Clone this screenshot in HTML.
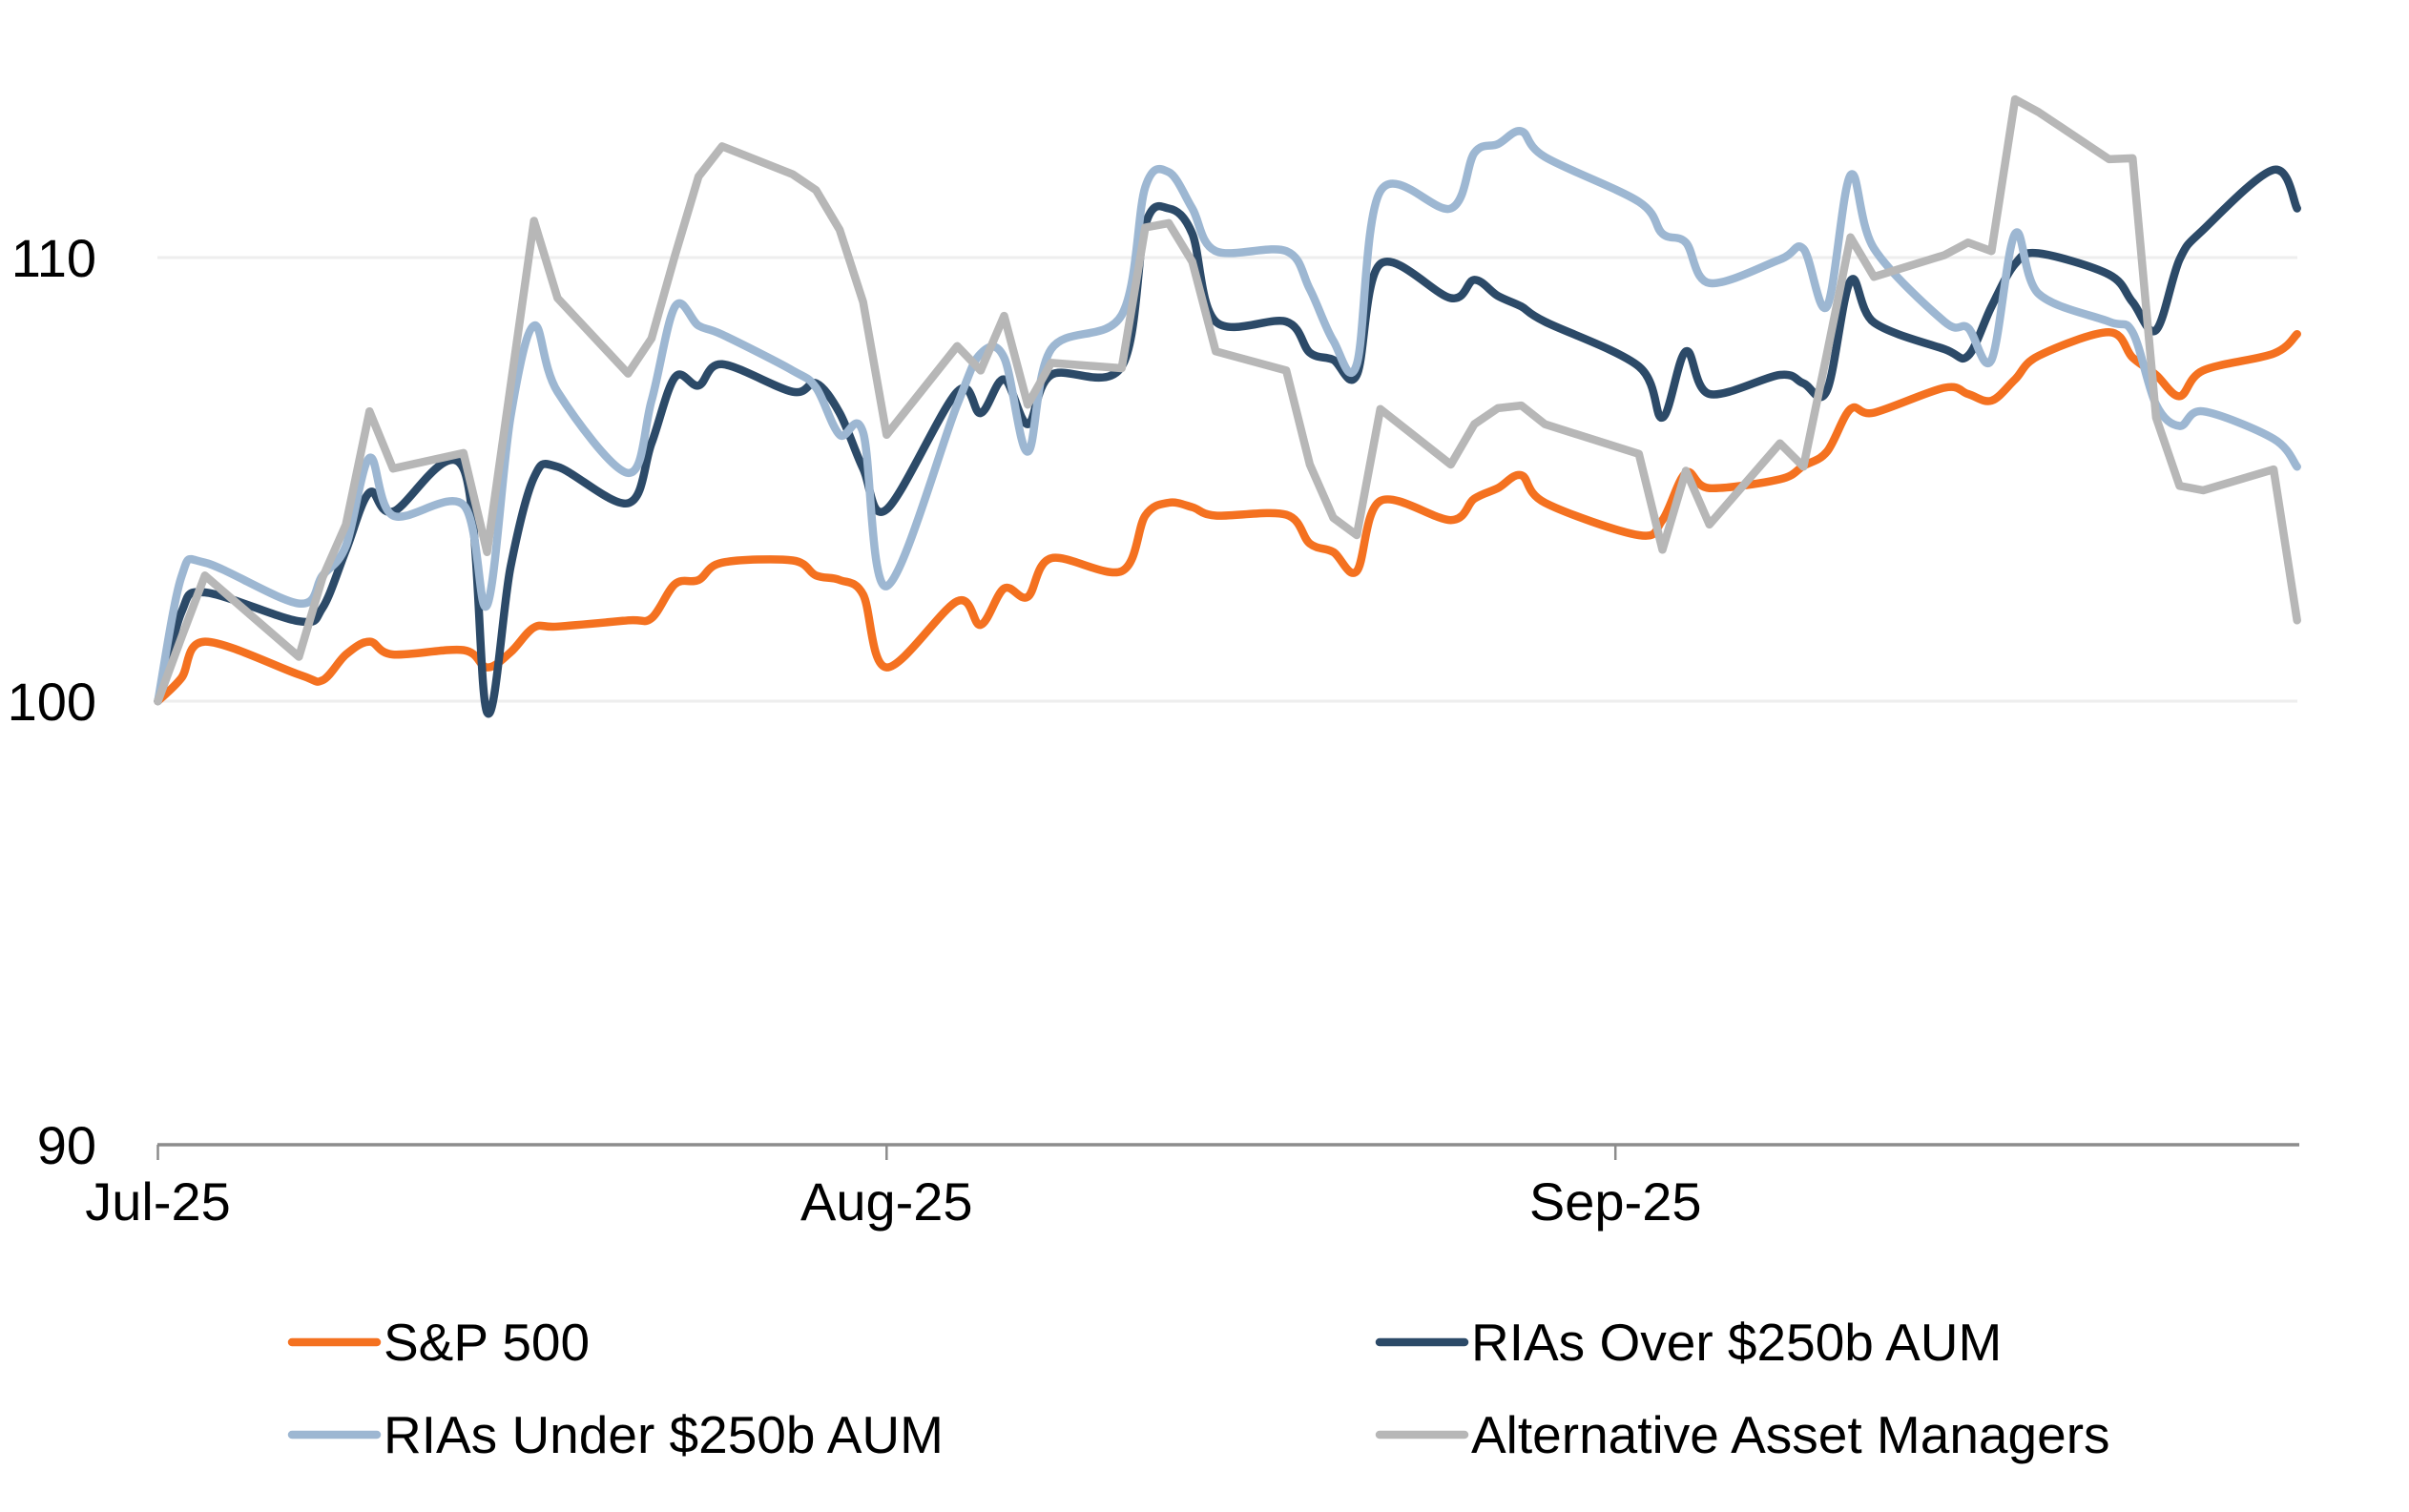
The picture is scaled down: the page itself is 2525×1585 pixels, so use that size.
<!DOCTYPE html>
<html>
<head>
<meta charset="utf-8">
<style>
  html,body{margin:0;padding:0;background:#fff;}
  svg{display:block;}
  text{font-family:"Liberation Sans",Arial,sans-serif;fill:#000;}
</style>
</head>
<body>
<svg id="chart" width="2525" height="1585" viewBox="0 0 2525 1585" xmlns="http://www.w3.org/2000/svg">
  <rect x="0" y="0" width="2525" height="1585" fill="#ffffff"/>
  <!-- gridlines -->
  <line x1="165" y1="270" x2="2408" y2="270" stroke="#EEEEEE" stroke-width="3"/>
  <line x1="165" y1="735" x2="2408" y2="735" stroke="#EEEEEE" stroke-width="3"/>
  <!-- x axis -->
  <line x1="165" y1="1200" x2="2410" y2="1200" stroke="#8C8C8C" stroke-width="3.5"/>
  <line x1="165.5" y1="1200" x2="165.5" y2="1216" stroke="#8C8C8C" stroke-width="2.5"/>
  <line x1="929.3" y1="1200" x2="929.3" y2="1216" stroke="#8C8C8C" stroke-width="2.5"/>
  <line x1="1693.2" y1="1200" x2="1693.2" y2="1216" stroke="#8C8C8C" stroke-width="2.5"/>
  <!-- y labels -->
  <text x="101" y="290" font-size="56" text-anchor="end">110</text>
  <text x="101" y="755" font-size="56" text-anchor="end">100</text>
  <text x="101" y="1220" font-size="56" text-anchor="end">90</text>
  <!-- x labels -->
  <text x="165.5" y="1279" font-size="56" text-anchor="middle">Jul-25</text>
  <text x="929.3" y="1279" font-size="56" text-anchor="middle">Aug-25</text>
  <text x="1693.2" y="1279" font-size="56" text-anchor="middle">Sep-25</text>
  <!-- series -->
  <g id="series" fill="none" stroke-width="8.5" stroke-linejoin="round" stroke-linecap="round"></g>
  <!-- legend -->
  <line x1="306" y1="1407" x2="395" y2="1407" stroke="#F47120" stroke-width="8.5" stroke-linecap="round"/>
  <text x="402" y="1426" font-size="55">S&amp;P 500</text>
  <line x1="1446" y1="1407" x2="1535" y2="1407" stroke="#2C4A68" stroke-width="8.5" stroke-linecap="round"/>
  <text x="1542" y="1426" font-size="55">RIAs Over $250b AUM</text>
  <line x1="306" y1="1504" x2="395" y2="1504" stroke="#9DB7D2" stroke-width="8.5" stroke-linecap="round"/>
  <text x="402" y="1523" font-size="55">RIAs Under $250b AUM</text>
  <line x1="1446" y1="1504" x2="1535" y2="1504" stroke="#B7B7B7" stroke-width="8.5" stroke-linecap="round"/>
  <text x="1542" y="1523" font-size="55">Alternative Asset Managers</text>
</svg>
<script>
(function(){
  var days=[0,1,2,6,7,8,9,10,13,14,15,16,17,20,21,22,23,24,27,28,29,30,31,34,35,36,37,38,41,42,43,44,45,48,49,50,51,52,55,56,57,58,59,63,64,65,66,69,70,71,72,73,76,77,78,79,80,83,84,85,86,87,90,91];
  var orange=[100,100.52,101.34,100.6,100.47,101.05,101.34,101.05,101.15,100.76,101.1,101.66,101.68,101.82,101.87,102.64,102.73,103.12,103.17,102.83,102.73,102.4,100.76,102.25,101.72,102.54,102.35,103.22,102.93,104.18,104.47,104.37,104.18,104.2,103.55,103.36,102.93,104.51,104.08,104.56,104.8,105.09,104.47,103.74,104.08,105.14,104.8,105.0,105.3,105.62,106.58,106.5,107.06,106.92,106.77,107.25,107.78,108.31,107.74,107.35,106.87,107.45,107.83,108.27];
  var navy=[100,102.0,102.45,101.8,102.1,103.4,104.7,104.27,105.24,99.75,103.02,105.04,105.28,104.46,105.81,107.3,107.11,107.59,106.97,107.16,106.49,105.24,104.32,106.97,106.49,107.25,106.24,107.35,107.54,110.72,111.1,110.53,108.55,108.55,107.85,107.69,107.35,109.85,109.08,109.49,109.13,108.89,108.55,107.54,106.39,107.88,106.92,107.35,107.16,107.0,109.47,108.53,107.93,107.78,108.89,109.85,110.09,109.61,108.99,108.36,109.95,110.62,111.97,111.1];
  var light=[100,102.8,103.12,102.2,102.83,103.5,105.48,104.18,104.42,102.16,106.4,108.46,106.97,105.14,106.77,108.89,108.46,108.26,107.45,107.06,106.0,106.05,102.59,106.68,107.83,107.74,105.62,107.93,108.7,111.58,111.92,111.1,110.14,110.14,109.28,108.12,107.59,111.49,111.1,112.35,112.55,112.84,112.26,111.25,110.53,110.33,109.42,109.95,110.19,108.89,111.85,110.2,108.55,108.41,107.69,110.53,109.18,108.55,108.31,106.68,106.2,106.53,105.91,105.28];
  var gray=[100,101.43,102.83,101.0,102.78,103.98,106.53,105.24,105.59,103.36,107.09,110.82,109.08,107.38,108.17,110.05,111.82,112.5,111.87,111.51,110.62,108.99,106.0,108.0,107.45,108.68,106.68,107.62,107.5,110.67,110.77,109.9,107.88,107.45,105.33,104.13,103.74,106.58,105.33,106.24,106.6,106.66,106.24,105.57,103.41,105.19,103.98,105.81,105.28,107.83,110.45,109.56,110.05,110.33,110.14,113.56,113.27,112.21,112.23,106.39,104.85,104.75,105.22,101.82];
  function X(d){return 165.5+d*24.64;}
  function Y(v){return 735-(v-100)*46.53;}
  function pts(vals){var p=[];for(var i=0;i<vals.length;i++)p.push([X(days[i]),Y(vals[i])]);return p;}
  function smooth(p){
    var s='M'+p[0][0].toFixed(1)+','+p[0][1].toFixed(1);
    for(var i=0;i<p.length-1;i++){
      var p0=p[i-1]||p[i],p1=p[i],p2=p[i+1],p3=p[i+2]||p[i+1];
      var c1x=p1[0]+(p2[0]-p0[0])/6,c1y=p1[1]+(p2[1]-p0[1])/6;
      var c2x=p2[0]-(p3[0]-p1[0])/6,c2y=p2[1]-(p3[1]-p1[1])/6;
      s+=' C'+c1x.toFixed(1)+','+c1y.toFixed(1)+' '+c2x.toFixed(1)+','+c2y.toFixed(1)+' '+p2[0].toFixed(1)+','+p2[1].toFixed(1);
    }
    return s;
  }
  function poly(p){var s='M'+p[0][0].toFixed(1)+','+p[0][1].toFixed(1);for(var i=1;i<p.length;i++)s+=' L'+p[i][0].toFixed(1)+','+p[i][1].toFixed(1);return s;}
  var g=document.getElementById('series');
  var ns='http://www.w3.org/2000/svg';
  function add(d,col){var e=document.createElementNS(ns,'path');e.setAttribute('d',d);e.setAttribute('stroke',col);g.appendChild(e);}
  add(smooth(pts(orange)),'#F47120');
  add(smooth(pts(navy)),'#2C4A68');
  add(smooth(pts(light)),'#9DB7D2');
  add(poly(pts(gray)),'#B7B7B7');
})();
</script>
</body>
</html>
